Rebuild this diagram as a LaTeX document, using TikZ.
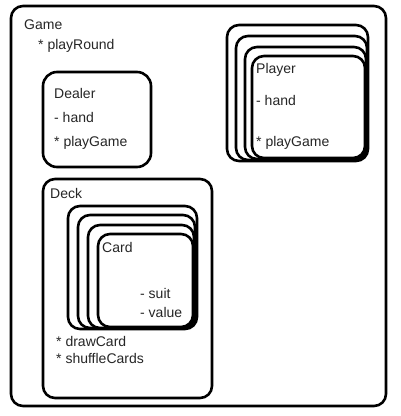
\documentclass[tikz,border=0pt]{standalone}
\usepackage{fontspec}
\setmainfont{Liberation Sans}
\usetikzlibrary{fit}
\tikzset{
  box/.style={draw=black, line width=2.6pt, fill=white, rounded corners=12pt, inner sep=0pt},
  txt/.style={anchor=base west, inner sep=0pt, font=\fontsize{14}{16}\selectfont, text=black!85}
}
\begin{document}
\begin{tikzpicture}[x=1pt,y=-1pt]
\useasboundingbox (0,0) rectangle (400,416);
% Game
\node[box, fit={(11,6) (386,406)}] (game) {};
\node[txt] (gameT) at (24,29) {Game};
\node[txt] (gameM) at (38,49) {* playRound};
% Dealer
\node[box, rounded corners=14pt, fit={(43,72) (151,167)}] (dealer) {};
\node[txt] (dealerT) at (54,98) {Dealer};
\node[txt] (dealerA) at (54,122) {- hand};
\node[txt] (dealerM) at (54,146) {* playGame};
% Player stack
\node[box, fit={(227,25) (368,161)}] (p1) {};
\node[box, fit={(236,36) (367,160)}] (p2) {};
\node[box, fit={(245,47) (366,159)}] (p3) {};
\node[box, fit={(252,56) (365,158)}] (p4) {};
\node[txt] (playerT) at (256,73) {Player};
\node[txt] (playerA) at (256,105) {- hand};
\node[txt] (playerM) at (256,146) {* playGame};
% Deck
\node[box, fit={(43,179) (212,398)}] (deck) {};
\node[txt] (deckT) at (50,198) {Deck};
\node[box, fit={(68,206) (197,329)}] (c1) {};
\node[box, fit={(78,215) (195,328)}] (c2) {};
\node[box, fit={(88,225) (194,328)}] (c3) {};
\node[box, fit={(98,234) (193,327)}] (c4) {};
\node[txt] (cardT) at (102,252) {Card};
\node[txt] (cardA) at (140,298) {- suit};
\node[txt] (cardB) at (140,317) {- value};
\node[txt] (deckM1) at (56,346) {* drawCard};
\node[txt] (deckM2) at (56,363) {* shuffleCards};
\end{tikzpicture}
\end{document}
